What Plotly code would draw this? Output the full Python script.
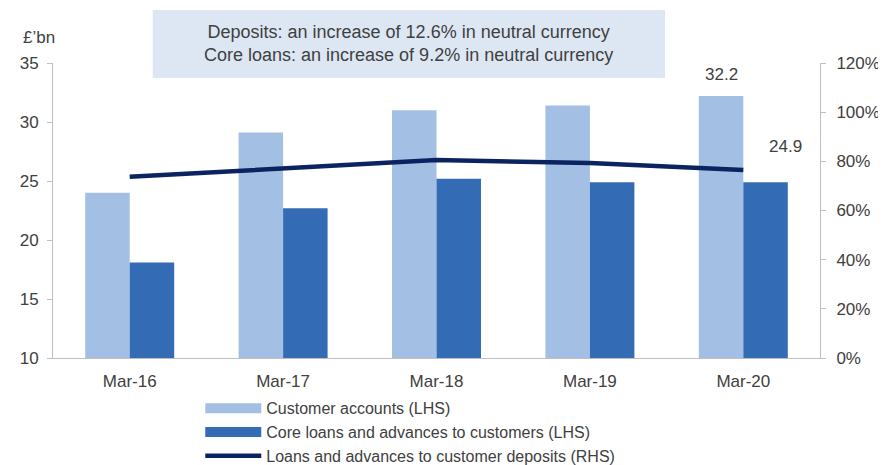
import plotly.graph_objects as go

categories = ["Mar-16", "Mar-17", "Mar-18", "Mar-19", "Mar-20"]
customer_accounts = [24.0, 29.1, 31.0, 31.4, 32.2]
core_loans = [18.1, 22.7, 25.2, 24.9, 24.9]
loans_to_deposits = [73.7, 76.9, 80.5, 79.3, 76.5]
left_ticks = [10, 15, 20, 25, 30, 35]
right_ticks = [0, 20, 40, 60, 80, 100, 120]
right_tick_labels = [f"{v}%" for v in right_ticks]

LIGHT = "#a3bfe4"
DARK = "#336bb5"
NAVY = "#0b2461"
TXT = "#404040"
AX = "#bfbfbf"
FONT = "Liberation Sans, Arial, sans-serif"
FS = 18

fig = go.Figure()
fig.add_trace(go.Bar(x=categories, y=customer_accounts, name="Customer accounts (LHS)",
                     marker=dict(color=LIGHT, line=dict(width=0)), showlegend=False))
fig.add_trace(go.Bar(x=categories, y=core_loans, name="Core loans and advances to customers (LHS)",
                     marker=dict(color=DARK, line=dict(width=0)), showlegend=False))
fig.add_trace(go.Scatter(x=categories, y=loans_to_deposits, yaxis="y2", mode="lines",
                         line=dict(color=NAVY, width=4.5), showlegend=False,
                         name="Loans and advances to customer deposits (RHS)"))

# legend proxies
fig.add_trace(go.Scatter(x=[None], y=[None], mode="lines", name="Customer accounts (LHS)",
                         line=dict(color=LIGHT, width=10)))
fig.add_trace(go.Scatter(x=[None], y=[None], mode="lines", name="Core loans and advances to customers (LHS)",
                         line=dict(color=DARK, width=10)))
fig.add_trace(go.Scatter(x=[None], y=[None], mode="lines", name="Loans and advances to customer deposits (RHS)",
                         line=dict(color=NAVY, width=4.5)))

# page body adds an 8px offset, so the figure is sized to the remaining viewport
fig.update_layout(
    width=878, height=457,
    margin=dict(l=45, r=66, t=55, b=107, autoexpand=False),
    paper_bgcolor="white", plot_bgcolor="white",
    font=dict(family=FONT, size=FS, color=TXT),
    barmode="group", bargap=0.42, bargroupgap=0,
    xaxis=dict(showline=True, linecolor=AX, linewidth=1, ticks="", showgrid=False,
               automargin=False, ticklabelstandoff=8, tickfont=dict(size=FS - 1, color=TXT)),
    yaxis=dict(range=[10, 35], tickvals=left_ticks, showline=True, linecolor=AX, linewidth=1,
               ticks="outside", ticklen=5, tickcolor=AX, showgrid=False, zeroline=False,
               automargin=False, ticklabelstandoff=5, tickfont=dict(size=FS - 1, color=TXT)),
    yaxis2=dict(range=[0, 120], tickvals=right_ticks, ticktext=right_tick_labels, overlaying="y",
                side="right", showline=True, linecolor=AX, linewidth=1, ticks="outside",
                ticklen=5, tickcolor=AX, showgrid=False, zeroline=False,
                automargin=False, ticklabelstandoff=7, tickfont=dict(size=FS - 1, color=TXT)),
    legend=dict(x=0.192, y=-0.113, xanchor="left", yanchor="top", orientation="v",
                font=dict(size=16, color=TXT), tracegroupgap=0, itemwidth=56,
                bgcolor="rgba(0,0,0,0)"),
    showlegend=True,
)

fig.add_shape(type="rect", xref="paper", yref="paper", x0=0.130, x1=0.798, y0=0.949, y1=1.18,
              fillcolor="#dde7f3", line=dict(width=0), layer="below")
fig.add_annotation(xref="paper", yref="paper", x=0.464, y=1.065, yanchor="middle", showarrow=False,
                   text="Deposits: an increase of 12.6% in neutral currency<br>Core loans: an increase of 9.2% in neutral currency",
                   font=dict(size=FS, color=TXT), align="center")
fig.add_annotation(xref="paper", yref="paper", x=-0.042, y=1.088, xanchor="left", yanchor="middle",
                   showarrow=False, text="£’bn", font=dict(size=FS - 1, color=TXT))
fig.add_annotation(x=categories[-1], y=customer_accounts[-1], xshift=-22, yshift=22, showarrow=False,
                   text=f"{customer_accounts[-1]:.1f}", font=dict(size=FS - 1, color=TXT))
fig.add_annotation(x=categories[-1], y=core_loans[-1], xshift=24, yshift=36, showarrow=False,
                   xanchor="left", text=f"{core_loans[-1]:.1f}", font=dict(size=FS - 1, color=TXT))

fig.write_html("out.html")
